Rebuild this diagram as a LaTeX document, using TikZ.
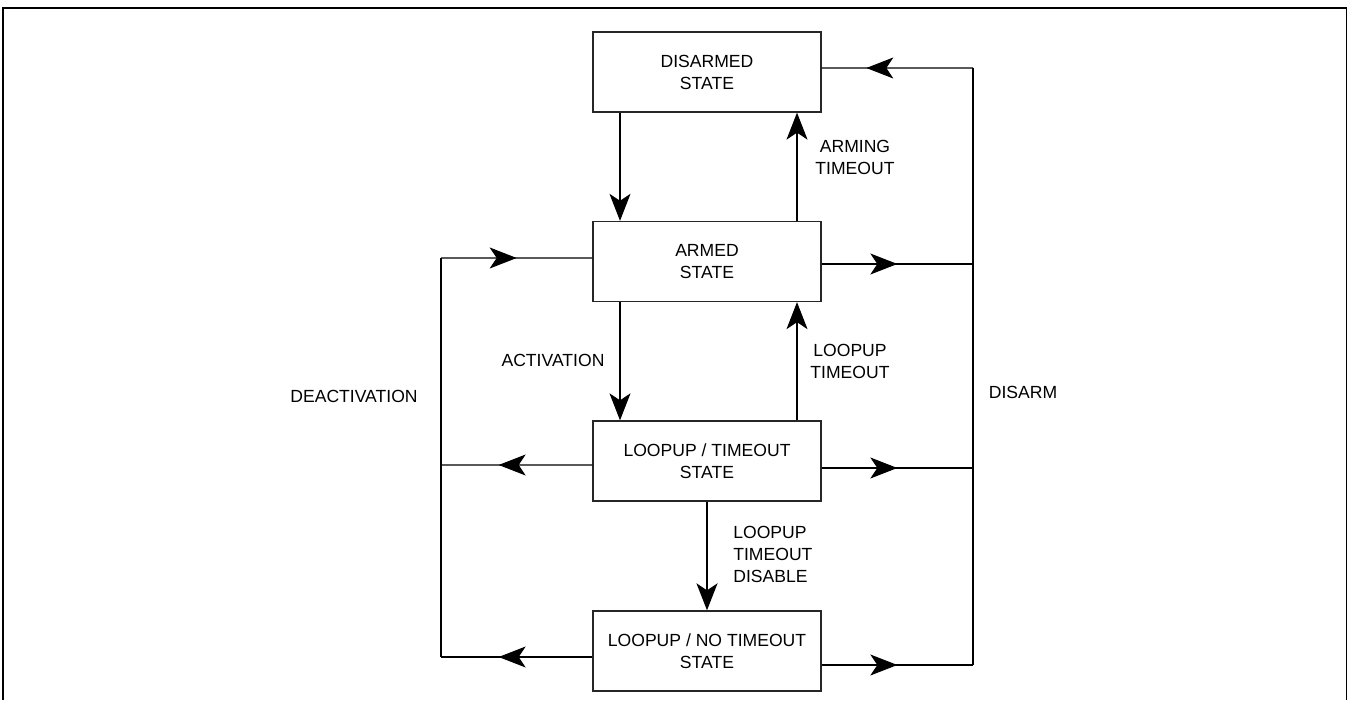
\documentclass[tikz,border=0pt]{standalone}
\usepackage{fontspec}
\setmainfont{Liberation Sans}
\usetikzlibrary{arrows.meta,positioning,decorations.markings}
\tikzset{
  statebox/.style={draw=black!85, line width=0.75pt, fill=white, minimum width=4.56cm, minimum height=1.6cm, align=center, inner sep=0pt},
  lbl/.style={align=center, inner sep=0pt},
  wire/.style={line width=0.6pt},
  tip/.style={-{Stealth[length=0.54cm,width=0.42cm,inset=0.14cm]}},
  midtip/.style={postaction={decorate}, decoration={markings,
      mark=at position 0.5 with {\arrow[xshift=#1]{Stealth[length=0.54cm,width=0.42cm,inset=0.14cm]}}}},
  midtip/.default=0cm,
}

\begin{document}
\begin{tikzpicture}[font=\fontsize{10}{12.5}\selectfont]
  \useasboundingbox (0,0) rectangle (27.02,14.0);
  % outer frame, open at the bottom edge
  \draw[line width=1.1pt] (0.06,0) -- (0.06,13.84) -- (26.93,13.84) -- (26.93,0);

  % the four states
  \node[statebox] (dis) at (14.14,12.56) {DISARMED\\STATE};
  \node[statebox] (arm) at (14.14,8.77) {ARMED\\STATE};
  \node[statebox] (lto) at (14.14,4.78) {LOOPUP / TIMEOUT\\STATE};
  \node[statebox] (lnt) at (14.14,0.98) {LOOPUP / NO TIMEOUT\\STATE};

  % rail corners
  \coordinate (rtop) at (19.46,12.64);
  \coordinate (rarm) at (19.46,8.72);
  \coordinate (rlto) at (19.46,4.64);
  \coordinate (rbot) at (19.46,0.70);
  \coordinate (ltop) at (8.82,8.84);
  \coordinate (llto) at (8.82,4.70);
  \coordinate (lbot) at (8.82,0.86);

  % vertical transitions
  \draw[wire,tip] (dis.south -| 12.40,0) -- (arm.north -| 12.40,0);
  \draw[wire,tip] (arm.north -| 15.94,0) -- (dis.south -| 15.94,0);
  \draw[wire,tip] (arm.south -| 12.40,0) -- (lto.north -| 12.40,0);
  \draw[wire,tip] (lto.north -| 15.94,0) -- (arm.south -| 15.94,0);
  \draw[line width=1.2pt,tip] (lto.south) -- (lnt.north);

  % disarm rail on the right
  \draw[wire] (rtop) -- (rbot);
  \draw[wire,midtip=0.62cm] (rtop) -- ([yshift=0.08cm]dis.east);
  \draw[wire,midtip] ([yshift=-0.05cm]arm.east) -- (rarm);
  \draw[wire,midtip] ([yshift=-0.14cm]lto.east) -- (rlto);
  \draw[wire,midtip] ([yshift=-0.28cm]lnt.east) -- (rbot);

  % deactivation rail on the left
  \draw[wire] (ltop) -- (lbot);
  \draw[wire,midtip] (ltop) -- ([yshift=0.07cm]arm.west);
  \draw[wire,midtip=0.36cm] ([yshift=-0.08cm]lto.west) -- (llto);
  \draw[wire,midtip=0.36cm] ([yshift=-0.12cm]lnt.west) -- (lbot);

  % transition labels
  \node[lbl] (larm) at (17.10,10.86) {ARMING\\TIMEOUT};
  \node[lbl] (lloop) at (17.00,6.78) {LOOPUP\\TIMEOUT};
  \node[lbl] (lact) at (11.06,6.80) {ACTIVATION};
  \node[lbl] (ldeact) at (7.08,6.08) {DEACTIVATION};
  \node[lbl] (ldisarm) at (20.46,6.16) {DISARM};
  \node[lbl,align=left,anchor=west] (ldis) at (14.66,2.92) {LOOPUP\\TIMEOUT\\DISABLE};
\end{tikzpicture}
\end{document}
